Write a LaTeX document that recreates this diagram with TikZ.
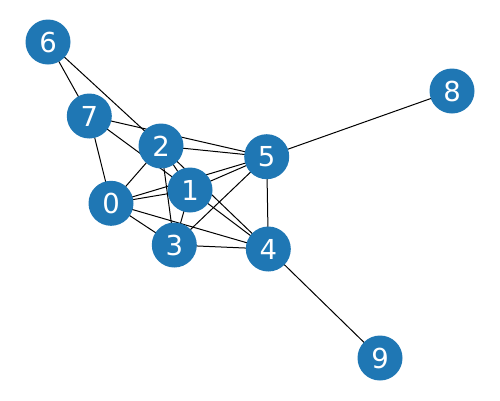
\documentclass[tikz,border=0pt]{standalone}
\usepackage{fontspec}
\setmainfont{DejaVu Sans}
\usetikzlibrary{backgrounds}
\definecolor{nblue}{HTML}{1F77B4}
\begin{document}
\begin{tikzpicture}[x=1pt,y=-1pt,
  vtx/.style={circle,fill=nblue,minimum size=45pt,inner sep=0pt,text=white,
    font=\fontsize{27.5}{30}\selectfont},
  edge/.style={line width=1pt,black}]
\useasboundingbox (0,0) rectangle (500,400);
\node[vtx] (n6) at (48,42) {6};
\node[vtx] (n7) at (89.3,116) {7};
\node[vtx] (n2) at (161,146) {2};
\node[vtx] (n5) at (266.7,156.7) {5};
\node[vtx] (n8) at (452,91) {8};
\node[vtx] (n1) at (190,190) {1};
\node[vtx] (n0) at (111,203.3) {0};
\node[vtx] (n3) at (174.3,245) {3};
\node[vtx] (n4) at (268.3,249) {4};
\node[vtx] (n9) at (380,358) {9};
\begin{scope}[on background layer]
\draw[edge] (n6.center) -- (n7.center);
\draw[edge] (n6.center) -- (n2.center);
\draw[edge] (n7.center) -- (n5.center);
\draw[edge] (n7.center) -- (n1.center);
\draw[edge] (n7.center) -- (n0.center);
\draw[edge] (n2.center) -- (n5.center);
\draw[edge] (n2.center) -- (n0.center);
\draw[edge] (n2.center) -- (n1.center);
\draw[edge] (n2.center) -- (n3.center);
\draw[edge] (n2.center) -- (n4.center);
\draw[edge] (n0.center) -- (n1.center);
\draw[edge] (n0.center) -- (n5.center);
\draw[edge] (n0.center) -- (n3.center);
\draw[edge] (n0.center) -- (n4.center);
\draw[edge] (n1.center) -- (n5.center);
\draw[edge] (n1.center) -- (n3.center);
\draw[edge] (n1.center) -- (n4.center);
\draw[edge] (n3.center) -- (n5.center);
\draw[edge] (n3.center) -- (n4.center);
\draw[edge] (n5.center) -- (n4.center);
\draw[edge] (n5.center) -- (n8.center);
\draw[edge] (n4.center) -- (n9.center);
\end{scope}
\end{tikzpicture}
\end{document}
